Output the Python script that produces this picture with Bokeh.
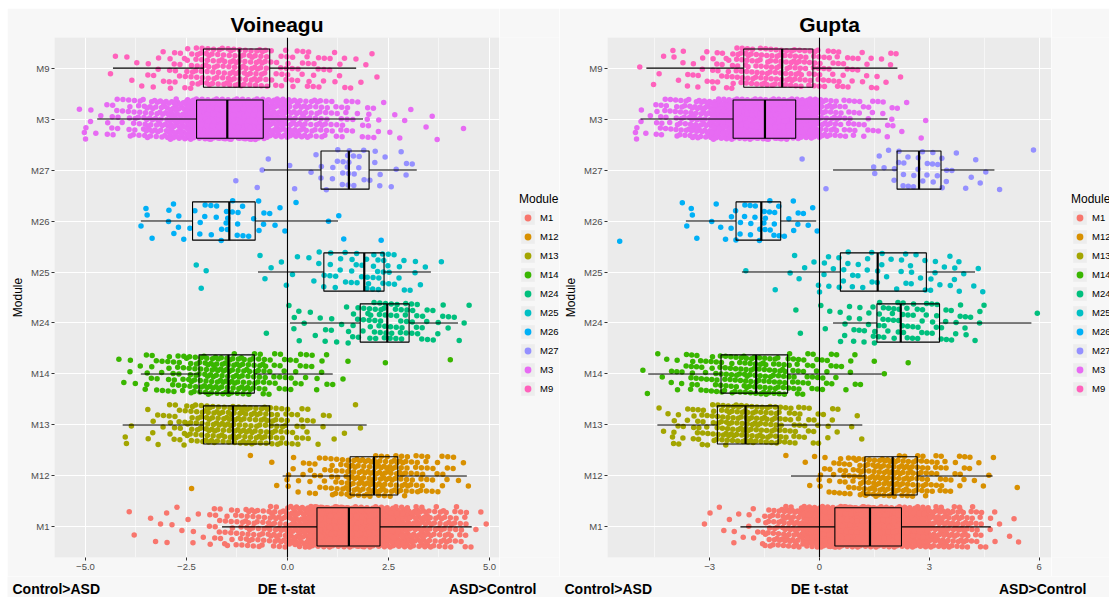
from bokeh.plotting import figure
from bokeh.layouts import row, column
from bokeh.models import FixedTicker, Legend, LegendItem, Span, ColumnDataSource
from bokeh.core.properties import value
from bokeh.transform import dodge
from bokeh.embed import file_html
from bokeh.resources import INLINE

FONT = "Liberation Sans"
BG = "#F7F7F7"
KEY_BG = "#EDEDED"

# modules, bottom row first
modules = ["M1", "M12", "M13", "M14", "M24", "M25", "M26", "M27", "M3", "M9"]
module_colors = ["#F8766D", "#D89000", "#A3A500", "#39B600", "#00BF7D",
                 "#00BFC4", "#00B0F6", "#9590FF", "#E76BF3", "#FF62BC"]

# gene t-statistics summarised as counts per 0.5-wide bin, first bin starts at -5.5
BIN_START = -5.5
BIN_WIDTH = 0.5

# ---- Voineagu ----
voi_M1 = [0, 0, 0, 2, 3, 5, 5, 14, 22, 30, 40, 60, 120, 150, 150, 125, 80, 55, 35, 22, 4, 0, 0, 0]
voi_M12 = [0, 0, 0, 0, 0, 0, 1, 0, 0, 1, 3, 8, 14, 24, 38, 44, 36, 22, 12, 5, 0, 0, 0, 0]
voi_M13 = [0, 0, 1, 2, 8, 16, 28, 36, 38, 34, 26, 14, 6, 3, 2, 0, 0, 0, 0, 0, 0, 0, 0, 0]
voi_M14 = [0, 0, 2, 5, 12, 20, 30, 38, 36, 30, 16, 12, 8, 3, 0, 1, 0, 0, 0, 1, 0, 0, 0, 0]
voi_M24 = [0, 0, 0, 0, 0, 0, 0, 0, 0, 1, 0, 6, 5, 5, 12, 22, 20, 14, 8, 4, 0, 0, 0, 0]
voi_M25 = [0, 0, 0, 0, 0, 0, 3, 0, 0, 2, 3, 2, 6, 9, 11, 15, 8, 5, 1, 0, 0, 0, 0, 0]
voi_M26 = [0, 0, 0, 2, 2, 7, 6, 8, 9, 6, 4, 1, 0, 3, 0, 1, 0, 0, 0, 0, 0, 0, 0, 0]
voi_M27 = [0, 0, 0, 0, 0, 0, 0, 0, 1, 2, 1, 2, 5, 10, 10, 6, 5, 1, 0, 0, 0, 0, 0, 0]
voi_M3 = [2, 6, 14, 25, 40, 60, 95, 115, 110, 100, 60, 45, 30, 18, 10, 7, 4, 2, 2, 1, 0, 0, 0, 0]
voi_M9 = [0, 0, 2, 4, 8, 14, 26, 30, 34, 34, 14, 14, 12, 8, 4, 2, 0, 0, 0, 0, 0, 0, 0, 0]

voi_whisker_lo = [-1.62, -0.12, -4.08, -3.63, 0.06, -0.73, -3.63, -0.58, -4.71, -4.32]
voi_q1 = [0.73, 1.55, -2.08, -2.19, 1.80, 0.90, -2.35, 0.83, -2.25, -2.08]
voi_median = [1.52, 2.14, -1.35, -1.46, 2.47, 1.90, -1.44, 1.52, -1.49, -1.19]
voi_q3 = [2.29, 2.73, -0.44, -0.82, 3.01, 2.39, -0.80, 2.02, -0.60, -0.44]
voi_whisker_hi = [4.56, 4.44, 1.96, 1.12, 4.22, 3.55, 1.25, 3.20, 1.87, 1.70]

# ---- Gupta ----
gup_M1 = [0, 0, 0, 0, 1, 3, 5, 8, 30, 45, 70, 105, 130, 135, 120, 105, 75, 50, 40, 22, 6, 3, 0, 0]
gup_M12 = [0, 0, 0, 0, 0, 0, 0, 0, 0, 1, 4, 10, 20, 30, 38, 38, 28, 18, 10, 5, 2, 1, 0, 0]
gup_M13 = [0, 0, 4, 10, 18, 26, 32, 32, 28, 20, 12, 6, 2, 2, 0, 0, 0, 0, 0, 0, 0, 0, 0, 0]
gup_M14 = [0, 2, 5, 10, 16, 22, 26, 28, 26, 22, 16, 12, 6, 2, 1, 1, 0, 0, 0, 0, 0, 0, 0, 0]
gup_M24 = [0, 0, 0, 0, 0, 0, 0, 0, 0, 2, 0, 3, 8, 9, 14, 15, 13, 11, 8, 6, 0, 0, 1, 0]
gup_M25 = [0, 0, 0, 0, 0, 0, 1, 0, 1, 3, 3, 6, 8, 7, 6, 6, 6, 6, 7, 3, 0, 0, 0, 0]
gup_M26 = [1, 0, 0, 3, 2, 4, 8, 9, 10, 6, 4, 0, 0, 0, 0, 0, 0, 0, 0, 0, 0, 0, 0, 0]
gup_M27 = [0, 0, 0, 0, 0, 0, 0, 0, 0, 0, 1, 1, 0, 1, 4, 9, 8, 9, 3, 3, 2, 0, 1, 0]
gup_M3 = [1, 6, 18, 28, 45, 65, 95, 105, 105, 90, 70, 35, 20, 12, 8, 4, 2, 0, 0, 0, 0, 0, 0, 0]
gup_M9 = [0, 2, 3, 6, 8, 14, 22, 26, 28, 30, 22, 16, 12, 8, 6, 2, 0, 0, 0, 0, 0, 0, 0, 0]

gup_whisker_lo = [-2.16, -0.78, -4.43, -4.68, 0.37, -2.12, -3.65, 0.37, -4.89, -4.73]
gup_q1 = [0.42, 1.24, -2.79, -2.69, 1.57, 0.57, -2.28, 2.12, -2.36, -2.07]
gup_median = [1.38, 2.00, -2.02, -1.73, 2.22, 1.59, -1.59, 2.72, -1.49, -1.02]
gup_q3 = [2.24, 2.67, -1.13, -0.87, 3.28, 2.92, -1.06, 3.32, -0.65, -0.18]
gup_whisker_hi = [4.68, 4.73, 1.17, 1.70, 5.79, 4.25, -0.09, 4.78, 1.86, 2.13]

voi_ticks = [-5.0, -2.5, 0.0, 2.5, 5.0]
voi_tick_labels = ["\u22125.0", "\u22122.5", "0.0", "2.5", "5.0"]
voi_minor = [-3.75, -1.25, 1.25, 3.75]
gup_ticks = [-3, 0, 3, 6]
gup_tick_labels = ["\u22123", "0", "3", "6"]
gup_minor = [-4.5, -1.5, 1.5, 4.5]

# bottom caption of each panel: left side, axis name, right side
caption_left = "Control>ASD"
caption_mid = "DE t-stat"
caption_right = "ASD>Control"

# vertical jitter half-height and a quasi-random sequence for spreading points
JITTER_H = 0.4
A1, A2 = 0.7548776662466927, 0.5698402909980532

PANEL_H = 568


def jitter(counts, row_y, seed):
    xs, ys = [], []
    for i, n in enumerate(counts):
        lo = BIN_START + i * BIN_WIDTH
        for k in range(n):
            t = seed * 37 + i * 11 + k
            xs.append(lo + BIN_WIDTH * ((0.5 + t * A1) % 1.0))
            ys.append(row_y + JITTER_H * (2.0 * ((0.5 + t * A2) % 1.0) - 1.0))
    return xs, ys


def panel(name, counts, wlo, q1, med, q3, whi, x_range, ticks, tick_labels, minor,
          frame_w, border_l):
    p = figure(frame_width=frame_w, frame_height=520, x_range=x_range, y_range=(0.4, 10.6),
               min_border_left=border_l, min_border_right=0,
               min_border_top=29, min_border_bottom=PANEL_H - 520 - 29,
               output_backend="svg", toolbar_location=None, title=name)
    p.background_fill_color = "#EBEBEB"
    p.border_fill_color = BG
    p.outline_line_color = None

    p.title.align = "center"
    p.title.text_font = FONT
    p.title.text_font_size = "21px"
    p.title.text_font_style = "bold"
    p.title.text_color = "black"
    p.title.standoff = 4

    xt = FixedTicker(ticks=ticks, minor_ticks=minor)
    p.xaxis.ticker = xt
    p.xgrid.ticker = xt
    p.xaxis.major_label_overrides = dict(zip(ticks, tick_labels))
    rows = list(range(1, len(modules) + 1))
    yt = FixedTicker(ticks=rows, minor_ticks=[])
    p.yaxis.ticker = yt
    p.ygrid.ticker = yt
    p.yaxis.major_label_overrides = dict(zip(rows, modules))

    for ax in (p.xaxis[0], p.yaxis[0]):
        ax.axis_line_color = None
        ax.major_tick_line_color = "#333333"
        ax.major_tick_out = 3
        ax.major_tick_in = 0
        ax.minor_tick_line_color = None
        ax.major_label_text_font = FONT
        ax.major_label_text_font_size = "9.5px"
        ax.major_label_text_color = "#4D4D4D"
        ax.major_label_standoff = 2
    p.yaxis.axis_label = "Module"
    p.yaxis.axis_label_text_font = FONT
    p.yaxis.axis_label_text_font_size = "12px"
    p.yaxis.axis_label_text_font_style = "normal"
    p.yaxis.axis_label_text_color = "black"
    p.yaxis.axis_label_standoff = 3

    p.xgrid.grid_line_color = "white"
    p.xgrid.grid_line_width = 1.1
    p.xgrid.minor_grid_line_color = "white"
    p.xgrid.minor_grid_line_width = 0.55
    p.ygrid.grid_line_color = "white"
    p.ygrid.grid_line_width = 1.1

    for j, c in enumerate(module_colors):
        xs, ys = jitter(counts[j], rows[j], j)
        p.scatter(xs, ys, size=5.5, fill_color=c, line_color=None)

    src = ColumnDataSource(dict(y=rows, lo=wlo, q1=q1, med=med, q3=q3, hi=whi))
    p.segment(x0="lo", y0="y", x1="q1", y1="y", source=src, line_color="black", line_width=1.1)
    p.segment(x0="q3", y0="y", x1="hi", y1="y", source=src, line_color="black", line_width=1.1)
    p.hbar(y="y", left="q1", right="q3", height=0.75, source=src,
           fill_alpha=0, line_color="black", line_width=1.1)
    p.segment(x0="med", y0=dodge("y", -0.375), x1="med", y1=dodge("y", 0.375),
              source=src, line_color="black", line_width=2.2)

    p.add_layout(Span(location=0, dimension="height", line_color="black", line_width=1.1))
    return p


def legend_panel(width):
    lp = figure(width=width, height=PANEL_H, x_range=(0, 1), y_range=(0, 1),
                x_axis_type=None, y_axis_type=None, min_border=0,
                output_backend="svg", toolbar_location=None)
    lp.background_fill_color = BG
    lp.border_fill_color = BG
    lp.outline_line_color = None
    # key glyph renderers sit outside the visible range; only their legend swatches show
    key_bg = lp.quad(left=[-10], right=[-9], top=[-9], bottom=[-10],
                     fill_color=KEY_BG, line_color=None)
    items = []
    for m, c in zip(modules, module_colors):
        dot = lp.scatter(x=[-10], y=[-10], size=5.5, fill_color=c, line_color=None)
        items.append(LegendItem(label=m, renderers=[key_bg, dot]))
    legend = Legend(items=items, location=(20, 160), title="Module",
                    title_text_font=FONT, title_text_font_size="12px", title_text_font_style="normal",
                    title_text_color="black", title_standoff=3,
                    label_text_font=FONT, label_text_font_size="9.5px", label_text_color="black",
                    label_height=17, label_standoff=4, glyph_width=17, glyph_height=17,
                    spacing=2, padding=0, margin=0,
                    background_fill_alpha=0, border_line_color=None)
    lp.add_layout(legend)
    return lp


p1 = panel("Voineagu",
           [voi_M1, voi_M12, voi_M13, voi_M14, voi_M24, voi_M25, voi_M26, voi_M27, voi_M3, voi_M9],
           voi_whisker_lo, voi_q1, voi_median, voi_q3, voi_whisker_hi,
           (-5.767, 5.248), voi_ticks, voi_tick_labels, voi_minor, 445, 47)
leg1 = legend_panel(60)
p2 = panel("Gupta",
           [gup_M1, gup_M12, gup_M13, gup_M14, gup_M24, gup_M25, gup_M26, gup_M27, gup_M3, gup_M9],
           gup_whisker_lo, gup_q1, gup_median, gup_q3, gup_whisker_hi,
           (-5.792, 6.339), gup_ticks, gup_tick_labels, gup_minor, 444, 48)
leg2 = legend_panel(58)

# caption strip under both panels, in page pixel coordinates
strip = figure(width=1102, height=21, x_range=(7, 1109), y_range=(597, 576),
               x_axis_type=None, y_axis_type=None, min_border=0,
               output_backend="svg", toolbar_location=None)
strip.background_fill_color = BG
strip.border_fill_color = BG
strip.outline_line_color = None
caption_style = dict(text_baseline="alphabetic", text_font=value(FONT),
                     text_font_size="14px", text_font_style="bold", text_color="black")
strip.text(x=[12, 564], y=[588, 588], text=[caption_left] * 2, text_align="left", **caption_style)
strip.text(x=[286, 819], y=[588, 588], text=[caption_mid] * 2, text_align="center", **caption_style)
strip.text(x=[536, 1086], y=[588, 588], text=[caption_right] * 2, text_align="right", **caption_style)

layout = column(row(p1, leg1, p2, leg2), strip, margin=(8, 0, 0, 7))
open("out.html", "w").write(file_html(layout, INLINE))
